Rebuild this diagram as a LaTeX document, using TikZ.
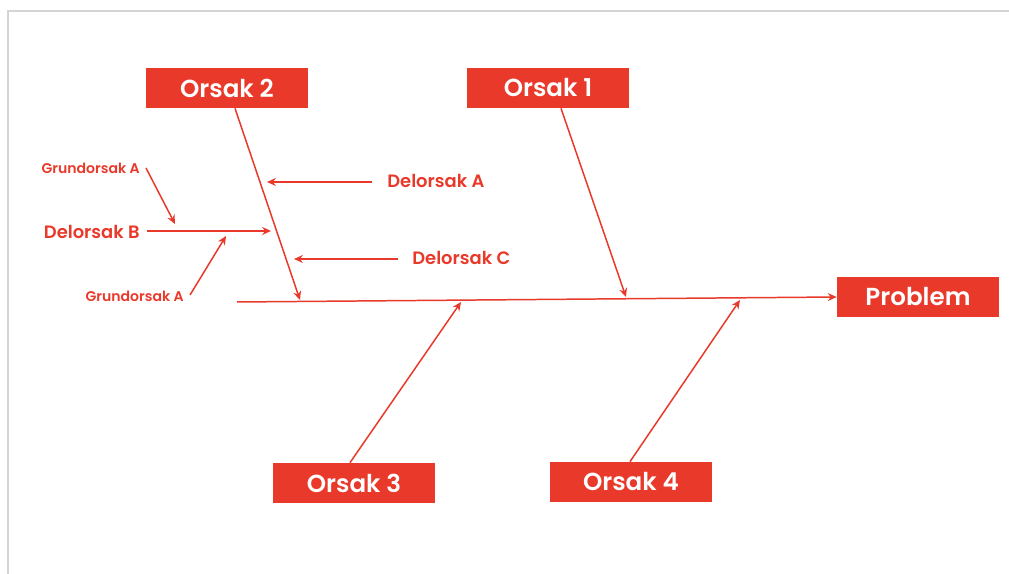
\documentclass[tikz,border=0pt]{standalone}
\usepackage{fontspec}
\setmainfont{Poppins}[BoldFont={Poppins SemiBold}]
\usetikzlibrary{arrows.meta}
\definecolor{fbred}{HTML}{E8392A}
\definecolor{framegray}{HTML}{D4D4D4}
\begin{document}
\begin{tikzpicture}[x=0.02cm,y=-0.02cm,
  cause/.style={fill=fbred,text=white,font=\bfseries\fontsize{14}{16}\selectfont,minimum width=162*0.02cm,minimum height=40*0.02cm,inner sep=0pt},
  sub/.style={text=fbred,font=\bfseries\fontsize{10.2}{12}\selectfont,inner sep=0pt},
  root/.style={text=fbred,font=\bfseries\fontsize{8}{10}\selectfont,inner sep=0pt},
  bone/.style={draw=fbred,line width=0.85pt,-{Stealth[length=5pt,width=4.5pt]}}
]
\useasboundingbox (0,0) rectangle (1009,574);
\draw[framegray,line width=1.2pt] (8,574) -- (8,11) -- (1009,11);

\node[cause] (o2) at (227,88) {Orsak 2};
\node[cause] (o1) at (548,88) {Orsak 1};
\node[cause] (o3) at (354,483) {Orsak 3};
\node[cause] (o4) at (631,482) {Orsak 4};
\node[cause] (pb) at (918,297) {Problem};

\node[sub,anchor=west] (da) at (387,181) {Delorsak A};
\node[sub,anchor=east] (db) at (140,232) {Delorsak B};
\node[sub,anchor=west] (dc) at (412,258) {Delorsak C};
\node[root,anchor=east] (ga1) at (140,168) {Grundorsak A};
\node[root,anchor=east] (ga2) at (184,296) {Grundorsak A};

% spine
\coordinate (sp0) at (237,302);
\draw[bone] (sp0) -- (pb.west);

% main bones
\coordinate (e2) at (300,300);
\coordinate (e1) at (626,297);
\coordinate (e3) at (461,302);
\coordinate (e4) at (740,300);
\draw[bone] (o2.south -| 235,0) -- (e2);
\draw[bone] (o1.south -| 561,0) -- (e1);
\draw[bone] (o3.north -| 350,0) -- (e3);
\draw[bone] (o4.north -| 630,0) -- (e4);

% sub bones
\coordinate (ta) at (267,182);
\coordinate (tb) at (271,231);
\coordinate (tc) at (294,259);
\draw[bone] (da.west) ++(-15,1) coordinate (sa) (sa) -- (ta);
\draw[bone] (db.east) ++(7,-1) coordinate (sb) (sb) -- (tb);
\draw[bone] (dc.west) ++(-14,1) coordinate (sc) (sc) -- (tc);

% root causes
\coordinate (r1) at (175,224);
\coordinate (r2) at (226,236);
\draw[bone] (ga1.east) ++(6,0) coordinate (s1) (s1) -- (r1);
\draw[bone] (ga2.east) ++(6,-1) coordinate (s2) (s2) -- (r2);
\end{tikzpicture}
\end{document}
